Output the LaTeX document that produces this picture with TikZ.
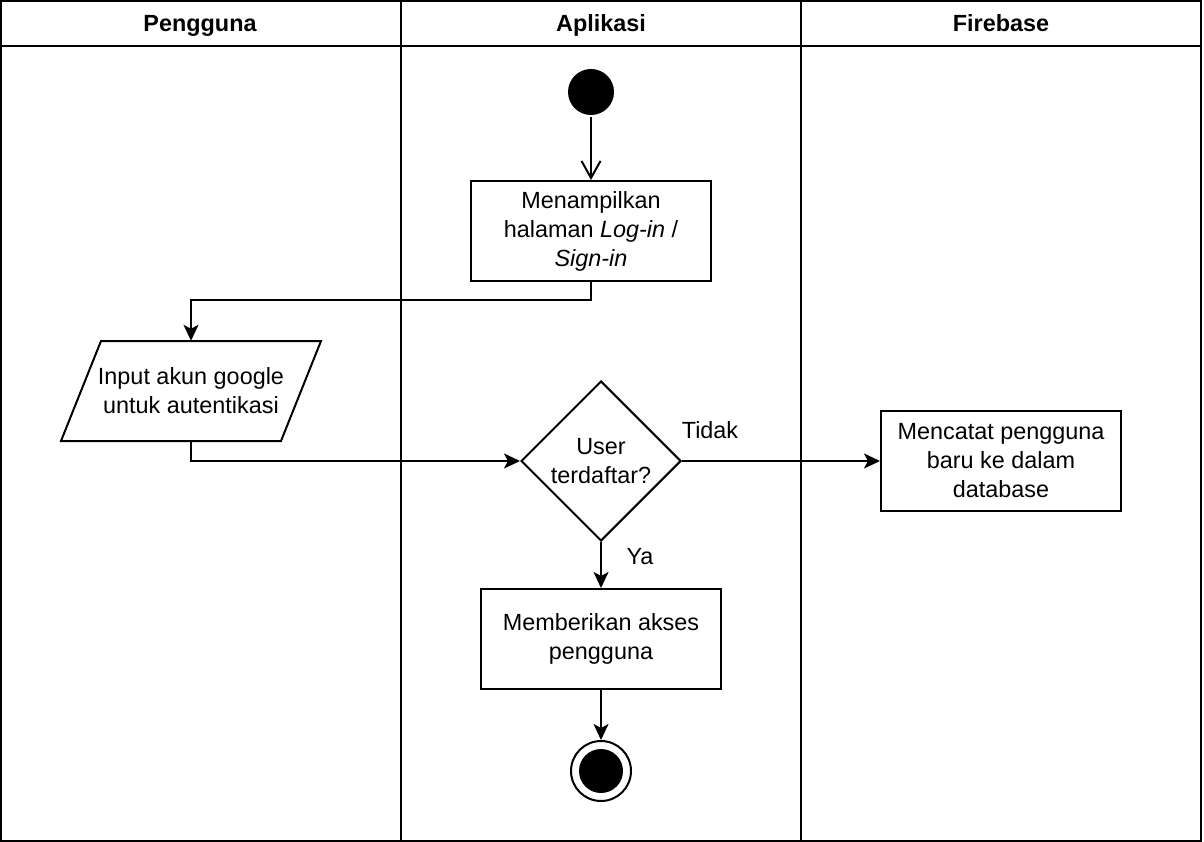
\documentclass[tikz,border=0pt]{standalone}
\usepackage{fontspec}
\setmainfont{Liberation Sans}
\usetikzlibrary{arrows.meta,positioning,shapes.geometric}
\begin{document}
\begin{tikzpicture}[x=1pt,y=-1pt,
  every node/.style={font=\fontsize{23.4}{29}\selectfont},
  ln/.style={line width=2pt},
  actbox/.style={draw,line width=2pt,minimum width=240pt,minimum height=100pt,align=center,inner sep=0pt},
  lbl/.style={inner sep=0pt},
  hdr/.style={inner sep=0pt,anchor=base,font=\fontsize{23.4}{29}\selectfont\bfseries},
  flow/.style={line width=2pt,-{Stealth[length=16pt,width=15pt,inset=4pt]}},
  openflow/.style={line width=2pt,-{Straight Barb[length=17pt,width=19pt,line width=2pt]}}
]
\useasboundingbox (0,0) rectangle (1204,842);
\fill[white] (0,0) rectangle (1204,842);
% swimlanes
\draw[ln] (1,1) rectangle (1201,841);
\draw[ln] (1,46) -- (1201,46);
\draw[ln] (401,1) -- (401,841);
\draw[ln] (801,1) -- (801,841);
\node[hdr] (h1) at (200,32) {Pengguna};
\node[hdr] (h2) at (601,32) {Aplikasi};
\node[hdr] (h3) at (1001,32) {Firebase};
% nodes
\node[circle,fill=black,minimum size=46pt,inner sep=0pt] (start) at (591,92) {};
\node[actbox] (show) at (591,231) {Menampilkan\\halaman \textit{Log-in} /\\\textit{Sign-in}};
\draw[ln] (101,341) -- (321,341) -- (281,441) -- (61,441) -- cycle;
\node[minimum width=260pt,minimum height=100pt,inner sep=0pt,align=center] (input) at (191,391) {Input akun google\\untuk autentikasi};
\node[draw,line width=2pt,diamond,minimum width=160pt,minimum height=160pt,inner sep=0pt,align=center,shape aspect=1] (dec) at (601,461) {};
\node[align=center,inner sep=0pt] (dectext) at (601,461) {User\\terdaftar?};
\node[actbox] (rec) at (1001,461) {Mencatat pengguna\\baru ke dalam\\database};
\node[actbox] (grant) at (601,639) {Memberikan akses\\pengguna};
\node[circle,draw,line width=2pt,minimum size=60pt,inner sep=0pt] (end) at (601,771) {};
\node[circle,fill=black,minimum size=44pt,inner sep=0pt] (endin) at (601,771) {};
% connectors
\draw[openflow] (start.south) ++(0,2) -- (show.north);
\draw[flow] (show.south) |- (191,300) -- (input.north);
\draw[flow] (input.south) |- (dec.west);
\draw[flow] (dec.east) -- (rec.west);
\node[lbl] (tidak) at (710,430) {Tidak};
\draw[flow] (dec.south) -- (grant.north);
\node[lbl] (ya) at (640,557) {Ya};
\draw[flow] (grant.south) -- (end.north);
\end{tikzpicture}
\end{document}
